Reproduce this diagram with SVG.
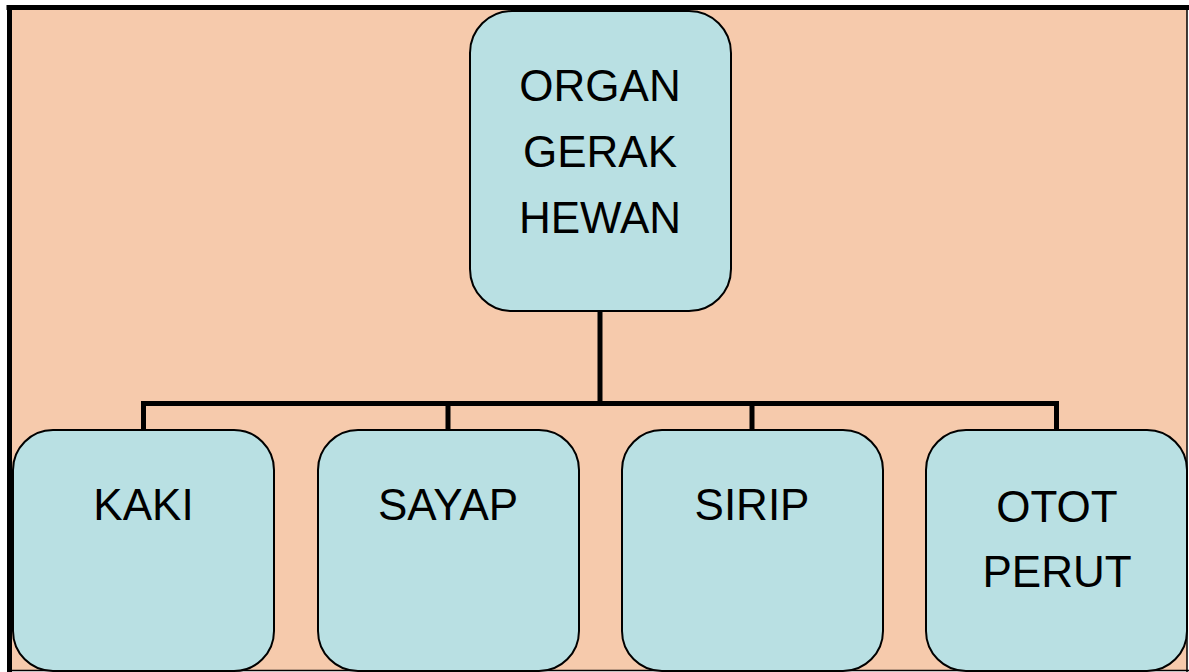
<svg xmlns="http://www.w3.org/2000/svg" width="1189" height="672" viewBox="0 0 1189 672">
<style>
.node{fill:#B9E0E3;stroke:#000;stroke-width:2}
.lbl{font-family:"Liberation Sans",Arial,sans-serif;font-size:44px;fill:#000;text-anchor:middle}
.conn{stroke:#000;stroke-width:5;fill:none}
</style>
<rect x="0" y="0" width="1189" height="672" fill="#fff"/>
<rect x="9" y="7" width="1178" height="663" fill="#F6CAAC"/>
<g id="frame">
<line x1="6.5" y1="7.5" x2="1189" y2="7.5" stroke="#000" stroke-width="5"/>
<line x1="9.5" y1="5" x2="9.5" y2="672" stroke="#000" stroke-width="5"/>
<line x1="1187" y1="7" x2="1187" y2="672" stroke="#000" stroke-width="1.5"/>
<line x1="9" y1="670.5" x2="1189" y2="670.5" stroke="#000" stroke-width="1.5"/>
</g>
<g id="connectors">
<path class="conn" d="M600 311 V403.5"/>
<path class="conn" d="M143.5 430 V403.5 H1056.5 V430"/>
<path class="conn" d="M448 403.5 V430"/>
<path class="conn" d="M752 403.5 V430"/>
</g>
<g id="n-root">
<rect class="node" x="470" y="11" width="261" height="300" rx="42"/>
<text class="lbl" x="600" y="101">ORGAN</text>
<text class="lbl" x="600" y="167">GERAK</text>
<text class="lbl" x="600" y="233">HEWAN</text>
</g>
<g id="n-kaki">
<rect class="node" x="13" y="430" width="261" height="241" rx="40"/>
<text class="lbl" x="143.5" y="520">KAKI</text>
</g>
<g id="n-sayap">
<rect class="node" x="318" y="430" width="261" height="241" rx="40"/>
<text class="lbl" x="448" y="520">SAYAP</text>
</g>
<g id="n-sirip">
<rect class="node" x="622" y="430" width="261" height="241" rx="40"/>
<text class="lbl" x="752" y="520">SIRIP</text>
</g>
<g id="n-otot">
<rect class="node" x="926" y="430" width="261" height="241" rx="40"/>
<text class="lbl" x="1057" y="522">OTOT</text>
<text class="lbl" x="1057" y="587">PERUT</text>
</g>
</svg>
